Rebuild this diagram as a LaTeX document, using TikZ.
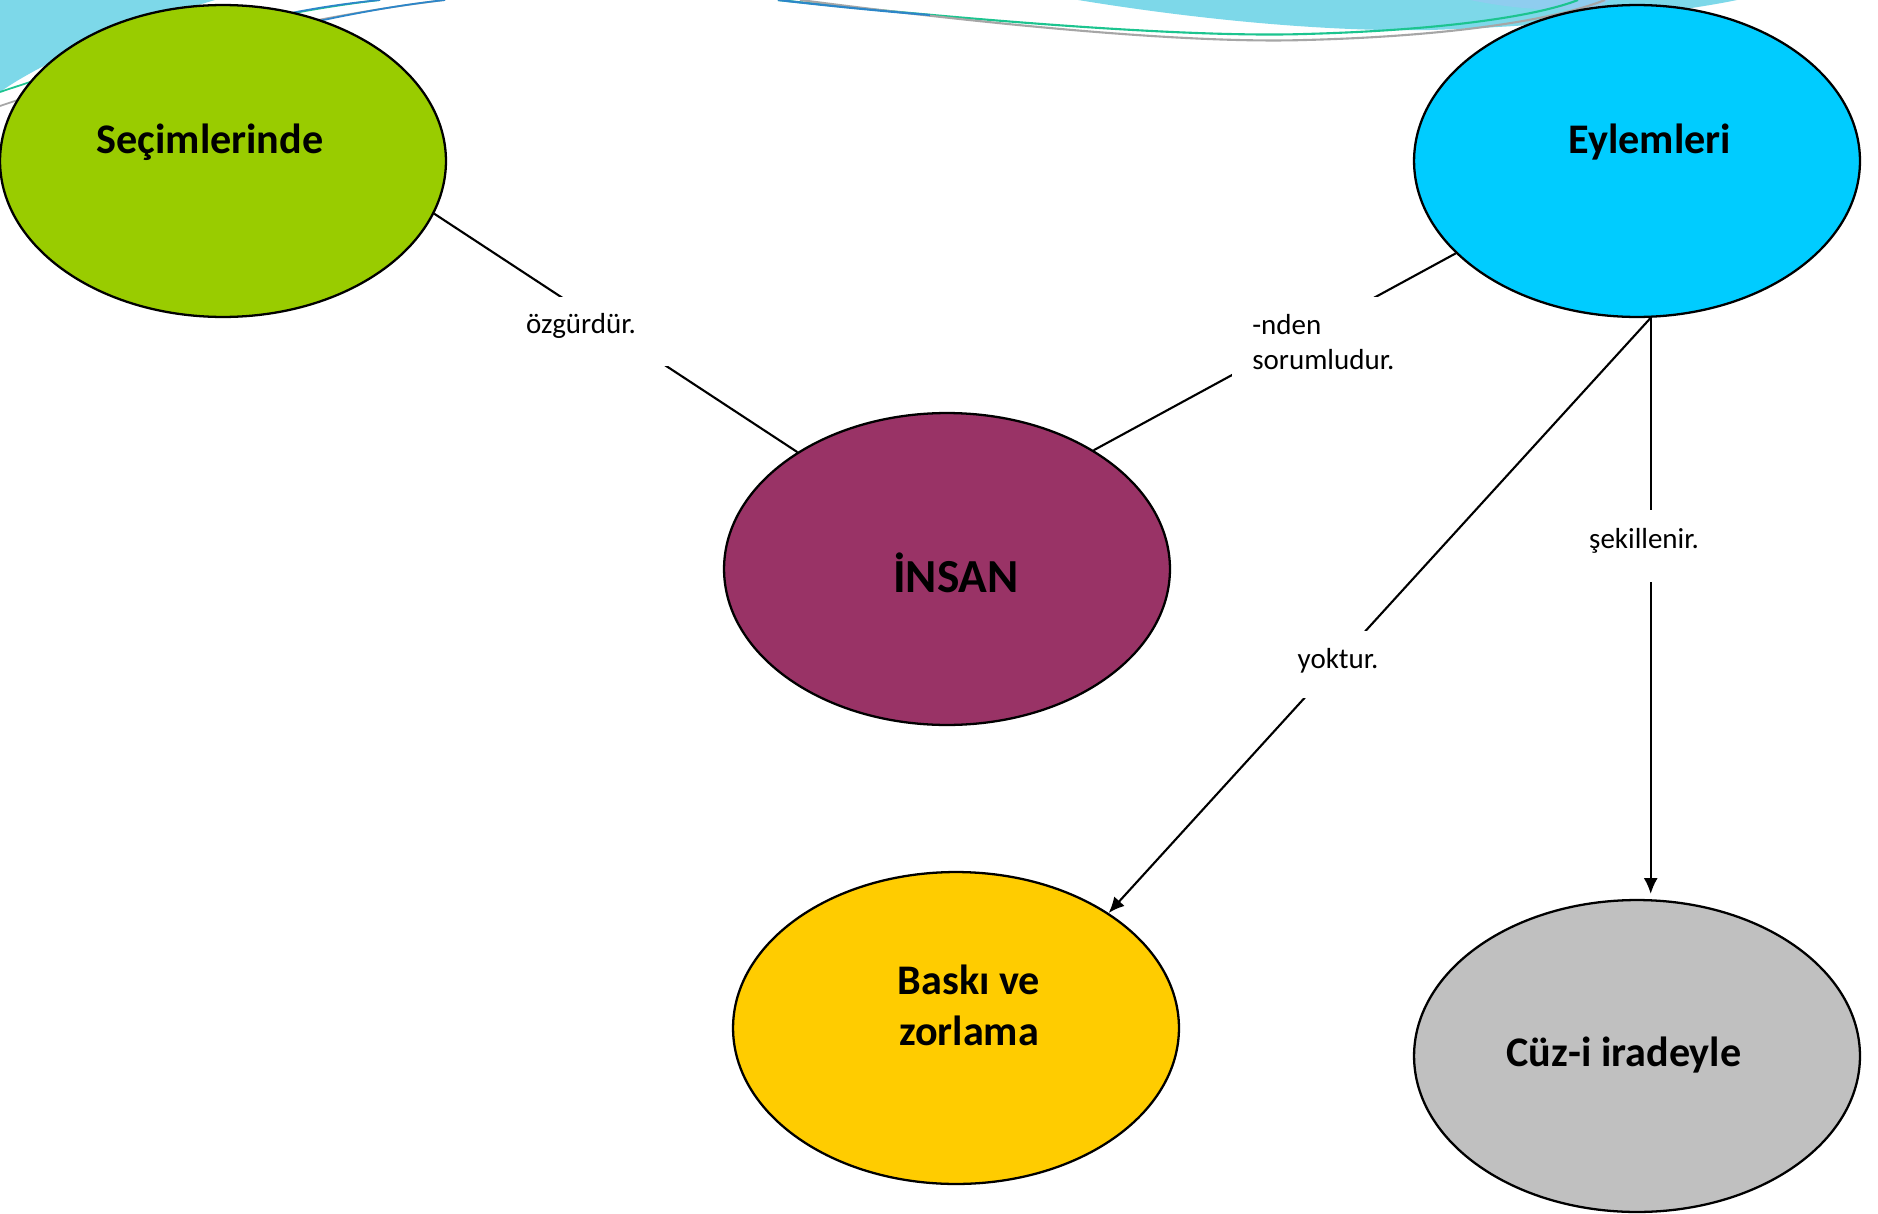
\documentclass[tikz,border=0pt]{standalone}
\usepackage{fontspec}
\setmainfont{Carlito}
\usetikzlibrary{shapes.geometric,arrows.meta,calc}
\definecolor{ovalGreen}{HTML}{99CC00}
\definecolor{ovalCyan}{HTML}{00CCFF}
\definecolor{ovalPurple}{HTML}{993366}
\definecolor{ovalYellow}{HTML}{FFCC00}
\definecolor{ovalGray}{HTML}{C0C0C0}
\definecolor{waveCyan}{HTML}{7DD8E9}
\definecolor{waveLight}{HTML}{8FCDEF}
\definecolor{waveTeal}{HTML}{1CC48F}
\definecolor{waveBlue}{HTML}{2C86C9}
\definecolor{waveGray}{HTML}{A6A6A6}

\begin{document}
\begin{tikzpicture}[x=0.02cm,y=-0.02cm]
          \tikzset{Oval/.style={ellipse,draw=black,line width=1.3pt,inner sep=0pt,
                    minimum width=8.92cm,minimum height=6.24cm}}
          \tikzset{OvalText/.style={font=\fontsize{24}{29}\selectfont\bfseries,align=center}}
          \tikzset{LabelBox/.style={fill=white,inner sep=0pt}}
          \tikzset{LabelText/.style={font=\fontsize{16.5}{19.8}\selectfont,inner sep=0pt}}
          \tikzset{EdgeStyle/.style={line width=1.2pt,black}}
          \tikzset{ArrowTip/.style={-{Latex[length=9pt,width=8pt]}}}
          \useasboundingbox (0,0) rectangle (1878,1213);
          \fill[white] (0,0) rectangle (1878,1213);

          % waves at the top
          \fill[waveCyan] (0,0) -- (215,0) .. controls (130,25) and (45,60) .. (0,92) -- cycle;
          \draw[waveTeal,line width=1pt] (0,92) .. controls (110,55) and (250,15) .. (380,0);
          \draw[waveGray,line width=1pt] (0,106) .. controls (130,62) and (280,20) .. (445,0);
          \draw[waveBlue,line width=1pt] (250,22) .. controls (300,10) and (340,4) .. (380,0);
          \draw[waveBlue,line width=1pt] (300,25) .. controls (360,12) and (400,5) .. (445,0);
          \fill[waveCyan] (1078,0) .. controls (1200,20) and (1330,32) .. (1430,30)
                    .. controls (1560,26) and (1680,12) .. (1737,0) -- cycle;
          \fill[waveLight] (1470,0) .. controls (1520,10) and (1560,12) .. (1600,6) -- (1610,0) -- cycle;
          \draw[waveTeal,line width=1.2pt] (778,0) .. controls (950,18) and (1180,38) .. (1305,34)
                    .. controls (1450,30) and (1540,15) .. (1578,0);
          \draw[waveGray,line width=1.2pt] (800,0) .. controls (970,22) and (1180,44) .. (1305,40)
                    .. controls (1460,36) and (1560,18) .. (1605,0);
          \draw[waveBlue,line width=1.2pt] (778,0) .. controls (830,6) and (880,11) .. (930,15);

          % ovals
          \node[Oval,fill=ovalGreen] (secim) at (223,161) {};
          \node[Oval,fill=ovalCyan] (eylem) at (1637,161) {};
          \node[Oval,fill=ovalPurple] (insan) at (947,569) {};
          \node[Oval,fill=ovalYellow] (baski) at (956,1028) {};
          \node[Oval,fill=ovalGray] (cuz) at (1637,1056) {};

          \node[OvalText] (secimText) at (210,142) {Seçimlerinde};
          \node[OvalText] (eylemText) at (1650,142) {Eylemleri};
          \node[OvalText,font=\fontsize{27}{32}\selectfont\bfseries] (insanText) at (956,573) {İNSAN};
          \node[OvalText] (baskiText) at (969,1005) {Baskı ve\\zorlama};
          \node[OvalText] (cuzText) at (1624,1055) {Cüz-i iradeyle};

          % plain edges
          \draw[EdgeStyle] (secim.-14) -- (insan.142);
          \draw[EdgeStyle] (eylem.-153) -- (insan.39);

          % arrows
          \coordinate (fork) at (eylem.-85);
          \draw[EdgeStyle,ArrowTip] (fork) -- (baski.37);
          \draw[EdgeStyle,ArrowTip] (fork) -- ($(fork |- cuz.north)+(0,-5)$);

          % edge labels
          \node[LabelBox,minimum width=4.4cm,minimum height=1.38cm] (ozgurBox) at (581,331.5) {};
          \node[LabelText,anchor=base] (ozgurText) at (581,333) {özgürdür.};
          \node[LabelBox,minimum width=4.48cm,minimum height=2.82cm] (sorumluBox) at (1344,367) {};
          \node[LabelText,anchor=north west,align=left] (sorumluText) at (1252,314) {-nden\\sorumludur.};
          \node[LabelBox,minimum width=3.8cm,minimum height=1.44cm] (sekilBox) at (1640,546) {};
          \node[LabelText,anchor=base] (sekilText) at (1644,548) {şekillenir.};
          \node[LabelBox,minimum width=3.24cm,minimum height=1.34cm] (yokBox) at (1339,664) {};
          \node[LabelText,anchor=base] (yokText) at (1338,668) {yoktur.};
\end{tikzpicture}
\end{document}
